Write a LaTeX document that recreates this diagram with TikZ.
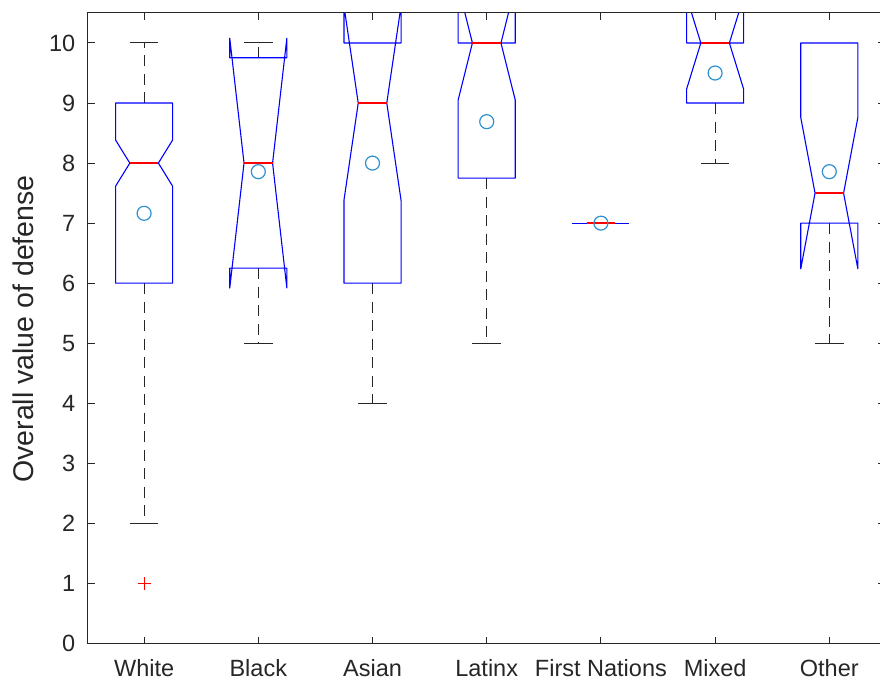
\documentclass[tikz,border=0pt]{standalone}
\usepackage{fontspec}
\setmainfont{Liberation Sans}
\definecolor{axgray}{RGB}{38,38,38}
\definecolor{meanblue}{RGB}{45,145,208}
\definecolor{boxblue}{RGB}{0,0,255}
\definecolor{medred}{RGB}{255,0,0}
\tikzset{
  boxline/.style={draw=boxblue, line width=1.1pt, line join=round},
  medline/.style={draw=medred, line width=1.5pt},
  whisk/.style={draw=black!85, line width=1.1pt, dash pattern=on 11pt off 7.5pt},
  capline/.style={draw=black!85, line width=1pt},
  axisline/.style={draw=axgray, line width=1pt},
  meanmark/.style={circle, draw=meanblue, line width=1.2pt, minimum size=14pt, inner sep=0pt},
  ticklab/.style={text=axgray, font=\fontsize{23.5}{28}\selectfont, inner sep=0pt},
  ylab/.style={text=axgray, font=\fontsize{28.5}{33}\selectfont, inner sep=0pt}
}
\begin{document}
\begin{tikzpicture}[x=1pt,y=1pt]
\useasboundingbox (0,0) rectangle (880,680);
\clip (0,0) rectangle (880,680);
\begin{scope}[shift={(29.9pt,36.5pt)}, x=114.2pt, y=60.05pt]
  % plot content clipped to the axes
  \begin{scope}
    \clip (0.5,0) rectangle (7.5,10.5);
    % whiskers
    \foreach \i/\qa/\qb/\m/\d/\wl in {1/6/9/8/0.385/2, 2/6.25/9.755/8/2.08/5, 3/6/10/9/1.62/4, 4/7.75/10/10/0.95/5, 6/9/10/10/0.77/8, 7/7/10/7.5/1.26/5}{
      \draw[whisk] (\i,\qa) -- (\i,\wl);
      \draw[capline] ({\i-0.125},\wl) -- ({\i+0.125},\wl);
    }
    \draw[whisk] (1,9) -- (1,10);
    \draw[capline] (0.875,10) -- (1.125,10);
    \draw[whisk] (2,9.755) -- (2,10);
    \draw[capline] (1.875,10) -- (2.125,10);
    % notched boxes
    \foreach \i/\qa/\qb/\m/\d in {1/6/9/8/0.385, 2/6.25/9.755/8/2.08, 3/6/10/9/1.62, 4/7.75/10/10/0.95, 6/9/10/10/0.77, 7/7/10/7.5/1.26}{
      \draw[boxline] ({\i-0.25},\qa) -- ({\i-0.25},{\m-\d}) -- ({\i-0.125},\m) -- ({\i-0.25},{\m+\d}) -- ({\i-0.25},\qb) -- ({\i+0.25},\qb) -- ({\i+0.25},{\m+\d}) -- ({\i+0.125},\m) -- ({\i+0.25},{\m-\d}) -- ({\i+0.25},\qa) -- cycle;
    }
    % First Nations: single value
    \draw[boxline] (4.75,7) -- (5.25,7);
    % medians
    \foreach \i/\m in {1/8, 2/8, 3/9, 4/10, 5/7, 6/10, 7/7.5}{
      \draw[medline] ({\i-0.125},\m) -- ({\i+0.125},\m);
    }
    % outlier
    \draw[draw=medred, line width=1pt] (1,1) ++(-6.5pt,0) -- ++(13pt,0) (1,1) ++(0,-6.5pt) -- ++(0,13pt);
    % means
    \node[meanmark] (mean1) at (1,7.164) {};
    \node[meanmark] (mean2) at (2,7.857) {};
    \node[meanmark] (mean3) at (3,8.0) {};
    \node[meanmark] (mean4) at (4,8.69) {};
    \node[meanmark] (mean5) at (5,7.0) {};
    \node[meanmark] (mean6) at (6,9.5) {};
    \node[meanmark] (mean7) at (7,7.857) {};
  \end{scope}
  % axes box
  \draw[axisline] (0.5,0) rectangle (7.5,10.5);
  % y ticks and labels
  \foreach \v in {0,...,10}{
    \draw[axisline] (0.5,\v) -- ++(8pt,0);
    \draw[axisline] (7.5,\v) -- ++(-8pt,0);
    \node[ticklab, anchor=east] (ytick\v) at ([xshift=-11.5pt]0.5,\v) {\v};
  }
  % x ticks and labels
  \foreach \i/\lab in {1/White, 2/Black, 3/Asian, 4/Latinx, 5/First Nations, 6/Mixed, 7/Other}{
    \draw[axisline] (\i,0) -- ++(0,7pt);
    \draw[axisline] (\i,10.5) -- ++(0,-7pt);
    \node[ticklab, anchor=north] (xtick\i) at ([yshift=-16pt]\i,0) {\lab};
  }
\end{scope}
\node[ylab, rotate=90, anchor=base] (ylabel) at (33,351) {Overall value of defense};
\end{tikzpicture}
\end{document}
